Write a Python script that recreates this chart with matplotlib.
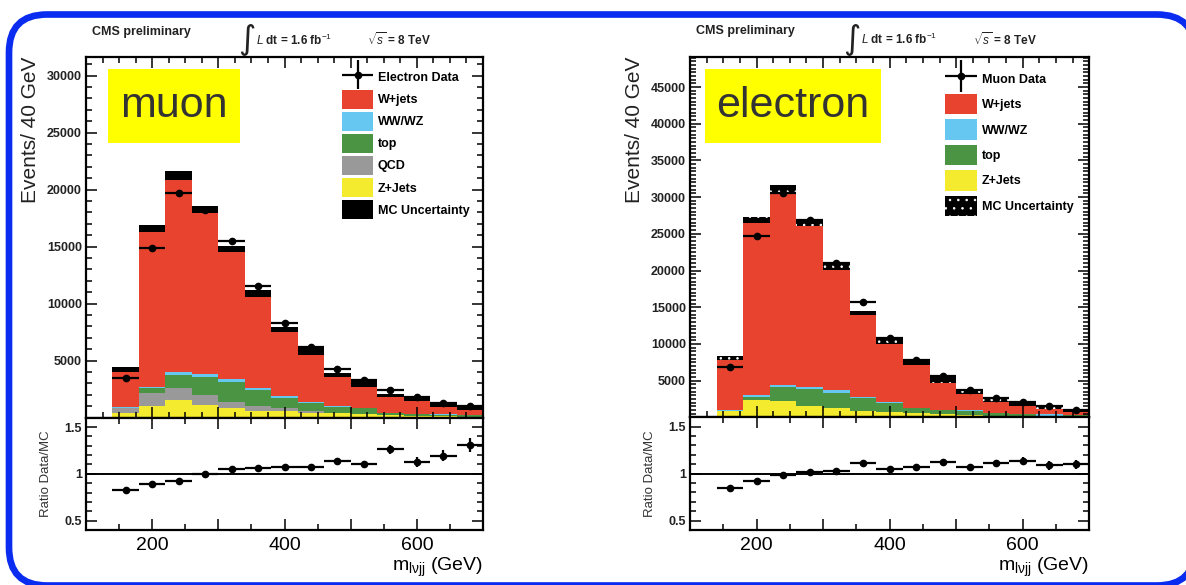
import numpy as np
import matplotlib
matplotlib.use("Agg")
import matplotlib.pyplot as plt
from matplotlib.patches import Patch, FancyBboxPatch, Rectangle
from matplotlib.ticker import MultipleLocator, FuncFormatter, AutoMinorLocator
from matplotlib.container import ErrorbarContainer
from matplotlib.legend_handler import HandlerErrorbar
from matplotlib.transforms import IdentityTransform

plt.rcParams['font.family'] = ['Liberation Sans', 'DejaVu Sans']
plt.rcParams['mathtext.fontset'] = 'custom'
plt.rcParams['mathtext.rm'] = 'Liberation Sans'
plt.rcParams['mathtext.it'] = 'Liberation Sans:italic'
plt.rcParams['mathtext.bf'] = 'Liberation Sans:bold'
plt.rcParams['hatch.color'] = 'white'
plt.rcParams['hatch.linewidth'] = 0.6

# ---------------- data ----------------
bin_edges = [140, 180, 220, 260, 300, 340, 380, 420, 460, 500, 540, 580, 620, 660, 700]

# left panel ("muon" label, legend says Electron Data)
mu_zjets = [380, 1050, 1550, 1110, 820, 615, 590, 440, 380, 300, 200, 150, 120, 100]
mu_qcd   = [440, 1090, 1080, 880, 580, 415, 230, 150, 60, 30, 0, 0, 0, 0]
mu_top   = [60, 490, 1120, 1610, 1760, 1400, 930, 670, 530, 490, 180, 150, 150, 120]
mu_wwwz  = [30, 60, 290, 200, 210, 200, 180, 80, 80, 30, 20, 20, 20, 20]
mu_wjets = [3320, 13880, 17180, 14450, 11430, 8250, 5830, 4450, 2720, 2170, 1520, 1320, 790, 560]
mu_unc   = [200, 320, 380, 330, 300, 320, 230, 290, 180, 290, 140, 150, 150, 150]
mu_data  = [3510, 14860, 19680, 18200, 15530, 11550, 8330, 6230, 4300, 3330, 2420, 1850, 1290, 1050]
mu_data_err = [60, 120, 140, 135, 125, 110, 90, 80, 65, 60, 50, 45, 40, 35]
mu_ratio_err = [0.01, 0.01, 0.01, 0.01, 0.015, 0.02, 0.02, 0.025, 0.03, 0.03, 0.05, 0.05, 0.06, 0.075]

# right panel ("electron" label, legend says Muon Data)
el_zjets = [860, 2360, 2270, 1540, 1230, 860, 770, 545, 400, 300, 100, 80, 20, 50]
el_top   = [50, 360, 1820, 2270, 2120, 1810, 1140, 685, 600, 600, 445, 370, 30, 200]
el_wwwz  = [20, 320, 310, 280, 370, 150, 120, 80, 60, 40, 30, 30, 380, 40]
el_wjets = [7110, 23840, 26800, 22420, 16720, 11350, 8270, 6050, 4020, 2550, 1785, 1330, 930, 610]
el_unc   = [270, 450, 450, 450, 390, 300, 320, 300, 390, 250, 250, 230, 230, 200]
el_data  = [6810, 24700, 30600, 26900, 21050, 15730, 10820, 7870, 5690, 3720, 2620, 2060, 1480, 990]
el_data_err = [80, 160, 175, 165, 145, 125, 105, 90, 75, 60, 50, 45, 40, 30]
el_ratio_err = [0.01, 0.01, 0.01, 0.01, 0.01, 0.015, 0.02, 0.02, 0.025, 0.03, 0.035, 0.04, 0.05, 0.05]

C_W = '#E8432F'
C_VV = '#66C8F0'
C_TOP = '#4A9443'
C_QCD = '#999999'
C_Z = '#F4EA2E'

# ---------------- figure ----------------
W, H = 1186, 585
fig = plt.figure(figsize=(W / 100, H / 100), dpi=100)


def axrect(l, t, r, b):
    return [l / W, 1 - b / H, (r - l) / W, (b - t) / H]


def style_axes(ax, ratio=False):
    for s in ax.spines.values():
        s.set_linewidth(1.6)
    ax.set_xlim(100, 700)
    ax.xaxis.set_major_locator(MultipleLocator(100))
    ax.xaxis.set_minor_locator(MultipleLocator(50 if ratio else 25))
    ax.tick_params(which='both', direction='in', top=True, right=True, width=1.1, colors='black')
    ax.tick_params(which='major', length=8)
    ax.tick_params(which='minor', length=4)


def panel(ax, rax, comps, unc, data, data_err, ratio_err, data_label,
          ylim, ymajor, nminor, big_label, hatched, legend_geom):
    edges = np.array(bin_edges, dtype=float)
    lefts = edges[:-1]
    widths = np.diff(edges)
    centers = lefts + widths / 2
    bottom = np.zeros(len(lefts))
    handles = {}
    for name, vals, color in comps:
        vals = np.array(vals, dtype=float)
        ax.bar(lefts, vals, width=widths, align='edge', bottom=bottom,
               color=color, linewidth=0, zorder=1)
        bottom = bottom + vals
        handles[name] = Patch(facecolor=color, edgecolor='none')
    mc = bottom
    unc = np.array(unc, dtype=float)
    if hatched:
        ax.bar(lefts, 2 * unc, width=widths, align='edge', bottom=mc - unc,
               color='black', linewidth=0, hatch='..', zorder=1.2)
        unc_handle = Patch(facecolor='black', hatch='..')
    else:
        ax.bar(lefts, 2 * unc, width=widths, align='edge', bottom=mc - unc,
               color='black', linewidth=0, zorder=1.2)
        unc_handle = Patch(facecolor='black', edgecolor='none')
    data = np.array(data, dtype=float)
    eb = ax.errorbar(centers, data, xerr=widths / 2, yerr=data_err, fmt='o',
                     color='black', ms=4.5, elinewidth=1.6, capsize=0, zorder=3)

    ax.set_ylim(*ylim)
    style_axes(ax)
    ax.yaxis.set_minor_locator(AutoMinorLocator(nminor))
    ax.set_yticks([v for v in ymajor])
    ax.set_yticklabels([str(v) for v in ymajor], fontsize=9, fontweight='bold', color='#222222')
    ax.tick_params(axis='y', pad=3)
    ax.set_xticklabels([])
    ax.set_ylabel('Events/ 40 GeV', fontsize=15, loc='top', labelpad=5, color='#222222')

    # legend
    order = [eb] + [handles[n] for n, _, _ in comps[::-1]] + [unc_handle]
    labels = [data_label] + [n for n, _, _ in comps[::-1]] + ['MC Uncertainty']
    ax_, ay_, hl, hh, ls = legend_geom
    ax.legend(order, labels, loc='upper left', bbox_to_anchor=(ax_, ay_),
              frameon=False, borderpad=0, borderaxespad=0,
              handlelength=hl, handleheight=hh, labelspacing=ls, handletextpad=0.4,
              prop={'size': 9, 'weight': 'bold'},
              handler_map={ErrorbarContainer: HandlerErrorbar(xerr_size=hl / 2, yerr_size=hh / 2 + 0.2)})

    # big label box
    bx0, by0, bw, bh, text = big_label
    ax.add_patch(Rectangle((bx0, by0), bw, bh, transform=ax.transAxes,
                           facecolor='#FFFF00', edgecolor='none', zorder=5))
    ax.text(bx0 + bw / 2, by0 + bh / 2, text, transform=ax.transAxes, ha='center', va='center',
            fontsize=31, color='#333333', zorder=6)

    # ratio
    ratio = data / mc
    rax.axhline(1.0, color='black', lw=1.4, zorder=2)
    rax.errorbar(centers, ratio, xerr=widths / 2, yerr=ratio_err, fmt='o', color='black',
                 ms=4.5, elinewidth=1.6, capsize=0, zorder=3)
    style_axes(rax, ratio=True)
    rax.set_ylim(0.4, 1.6)
    rax.yaxis.set_major_locator(MultipleLocator(0.5))
    rax.yaxis.set_minor_locator(MultipleLocator(0.1))
    rax.yaxis.set_major_formatter(FuncFormatter(lambda v, p: {0.5: '0.5', 1.0: '1', 1.5: '1.5'}.get(round(v, 2), '')))
    rax.xaxis.set_major_formatter(FuncFormatter(lambda v, p: f'{v:.0f}' if round(v) in (200, 400, 600) else ''))
    for lab in rax.get_yticklabels():
        lab.set_fontsize(9)
        lab.set_fontweight('bold')
        lab.set_color('#222222')
    rax.tick_params(axis='y', pad=3, labelsize=9)
    rax.tick_params(axis='x', pad=5, labelsize=14)
    rax.set_ylabel('Ratio Data/MC', fontsize=9.5, labelpad=9, color='#333333')
    rax.set_xlabel(r'm$_{\mathregular{l\nu jj}}$ (GeV)', fontsize=14, loc='right', labelpad=1)

    # header
    tk = dict(transform=ax.transAxes, clip_on=False, color='#222222')
    ax.text(0.015, 1.07, 'CMS preliminary', fontsize=9, fontweight='bold', ha='left', va='center', **tk)
    ax.text(0.404, 1.048, '\u222b', fontsize=24, family='DejaVu Sans', ha='center', va='center', **tk)
    ax.text(0.428, 1.047, r'$L$ dt = 1.6 fb$^{-1}$', fontsize=8.5, fontweight='bold', ha='left', va='center', **tk)
    ax.text(0.708, 1.047, r'$\sqrt{s}$ = 8 TeV', fontsize=8.5, fontweight='bold', ha='left', va='center', **tk)


axL = fig.add_axes(axrect(86, 57, 483, 417.7))
rL = fig.add_axes(axrect(86, 417.7, 483, 530))
axR = fig.add_axes(axrect(690, 56.7, 1089.3, 417.3))
rR = fig.add_axes(axrect(690, 417.3, 1089.3, 530))

panel(axL, rL,
      [('Z+Jets', mu_zjets, C_Z), ('QCD', mu_qcd, C_QCD), ('top', mu_top, C_TOP),
       ('WW/WZ', mu_wwwz, C_VV), ('W+jets', mu_wjets, C_W)],
      mu_unc, mu_data, mu_data_err, mu_ratio_err, 'Electron Data',
      (0, 31640), [5000, 10000, 15000, 20000, 25000, 30000], 5,
      ((108 - 86) / 397, (417.7 - 143) / 360.7, 132 / 397, 74 / 360.7, 'muon'),
      False, ((342 - 86) / 397, (417.7 - 68) / 360.7, 2.48, 1.92, 0.27))

panel(axR, rR,
      [('Z+Jets', el_zjets, C_Z), ('top', el_top, C_TOP),
       ('WW/WZ', el_wwwz, C_VV), ('W+jets', el_wjets, C_W)],
      el_unc, el_data, el_data_err, el_ratio_err, 'Muon Data',
      (0, 49130), [5000, 10000, 15000, 20000, 25000, 30000, 35000, 40000, 45000], 10,
      ((705 - 690) / 399.3, (417.3 - 143) / 360.6, 176 / 399.3, 74 / 360.6, 'electron'),
      True, ((945 - 690) / 399.3, (417.3 - 68.7) / 360.6, 2.56, 2.13, 0.4))

# blue rounded frame; white face behind the axes so the stroke is not clamped to the canvas
frame = FancyBboxPatch((9, -0.5), 1186, 571, boxstyle='round,pad=0,rounding_size=38',
                       transform=IdentityTransform(), facecolor='white',
                       edgecolor='#0A2CF0', linewidth=4.8, clip_on=False, zorder=-5)
fig.add_artist(frame)

fig.savefig('out.png', dpi=100)
